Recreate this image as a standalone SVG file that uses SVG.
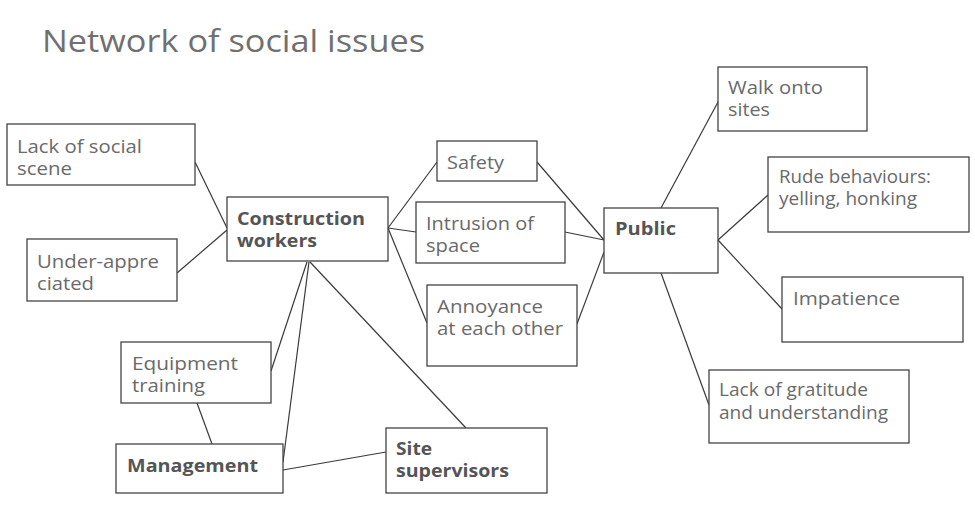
<svg xmlns="http://www.w3.org/2000/svg" width="975" height="514" viewBox="0 0 975 514">
<style>
.box{fill:#fff;stroke:#444;stroke-width:1.3}
.t{font-family:"Open Sans","Noto Sans",sans-serif;font-size:17.5px;fill:#6a6a6a}
.b{font-family:"Open Sans","Noto Sans",sans-serif;font-size:17.5px;font-weight:700;fill:#555}
.title{font-family:"Open Sans","Noto Sans",sans-serif;font-size:31px;fill:#707070}
#connectors line{stroke:#3a3a3a;stroke-width:1.2}
</style>
<rect width="975" height="514" fill="#fff"/>
<text class="title" x="42" y="52" textLength="383" lengthAdjust="spacingAndGlyphs">Network of social issues</text>
<g id="connectors">
<line x1="195" y1="162" x2="227" y2="228"/>
<line x1="177" y1="273" x2="227" y2="230"/>
<line x1="388" y1="228" x2="437" y2="162"/>
<line x1="388" y1="228" x2="416" y2="232"/>
<line x1="388" y1="228" x2="427" y2="323"/>
<line x1="537" y1="162" x2="604" y2="240"/>
<line x1="565" y1="232" x2="604" y2="240"/>
<line x1="577" y1="324" x2="604" y2="252"/>
<line x1="661" y1="208" x2="718" y2="102"/>
<line x1="718" y1="240" x2="768" y2="195"/>
<line x1="718" y1="240" x2="782" y2="309"/>
<line x1="661" y1="273" x2="709" y2="405"/>
<line x1="307" y1="262" x2="271" y2="371"/>
<line x1="309" y1="262" x2="283" y2="462"/>
<line x1="310" y1="262" x2="466" y2="428"/>
<line x1="197" y1="403" x2="212" y2="444"/>
<line x1="283" y1="470" x2="386" y2="452"/>
</g>
<g id="lack-social">
<rect class="box" x="7" y="124" width="188" height="61"/>
<text class="t" x="17" y="153" textLength="125" lengthAdjust="spacingAndGlyphs">Lack of social</text>
<text class="t" x="17" y="175" textLength="55" lengthAdjust="spacingAndGlyphs">scene</text>
</g>
<g id="under-appreciated">
<rect class="box" x="27" y="239" width="150" height="62"/>
<text class="t" x="37" y="268" textLength="122" lengthAdjust="spacingAndGlyphs">Under-appre</text>
<text class="t" x="37" y="290" textLength="57" lengthAdjust="spacingAndGlyphs">ciated</text>
</g>
<g id="construction-workers">
<rect class="box" x="227" y="197" width="161" height="64"/>
<text class="b" x="237" y="225" textLength="128" lengthAdjust="spacingAndGlyphs">Construction</text>
<text class="b" x="237" y="247" textLength="80" lengthAdjust="spacingAndGlyphs">workers</text>
</g>
<g id="safety">
<rect class="box" x="437" y="141" width="100" height="40"/>
<text class="t" x="447" y="169" textLength="57" lengthAdjust="spacingAndGlyphs">Safety</text>
</g>
<g id="intrusion">
<rect class="box" x="416" y="202" width="149" height="61"/>
<text class="t" x="426" y="230" textLength="108" lengthAdjust="spacingAndGlyphs">Intrusion of</text>
<text class="t" x="426" y="252" textLength="54" lengthAdjust="spacingAndGlyphs">space</text>
</g>
<g id="annoyance">
<rect class="box" x="427" y="285" width="150" height="81"/>
<text class="t" x="437" y="313" textLength="106" lengthAdjust="spacingAndGlyphs">Annoyance</text>
<text class="t" x="437" y="335" textLength="126" lengthAdjust="spacingAndGlyphs">at each other</text>
</g>
<g id="public">
<rect class="box" x="604" y="208" width="114" height="65"/>
<text class="b" x="615" y="235" textLength="61" lengthAdjust="spacingAndGlyphs">Public</text>
</g>
<g id="walk-onto-sites">
<rect class="box" x="718" y="67" width="149" height="64"/>
<text class="t" x="728" y="94" textLength="95" lengthAdjust="spacingAndGlyphs">Walk onto</text>
<text class="t" x="728" y="116" textLength="42" lengthAdjust="spacingAndGlyphs">sites</text>
</g>
<g id="rude-behaviours">
<rect class="box" x="768" y="157" width="201" height="75"/>
<text class="t" x="779" y="183" textLength="152" lengthAdjust="spacingAndGlyphs">Rude behaviours:</text>
<text class="t" x="779" y="205" textLength="138" lengthAdjust="spacingAndGlyphs">yelling, honking</text>
</g>
<g id="impatience">
<rect class="box" x="782" y="277" width="181" height="65"/>
<text class="t" x="793" y="305" textLength="107" lengthAdjust="spacingAndGlyphs">Impatience</text>
</g>
<g id="lack-gratitude">
<rect class="box" x="709" y="370" width="200" height="73"/>
<text class="t" x="719" y="396" textLength="149" lengthAdjust="spacingAndGlyphs">Lack of gratitude</text>
<text class="t" x="719" y="419" textLength="169" lengthAdjust="spacingAndGlyphs">and understanding</text>
</g>
<g id="equipment-training">
<rect class="box" x="121" y="342" width="150" height="61"/>
<text class="t" x="132" y="370" textLength="106" lengthAdjust="spacingAndGlyphs">Equipment</text>
<text class="t" x="132" y="392" textLength="73" lengthAdjust="spacingAndGlyphs">training</text>
</g>
<g id="management">
<rect class="box" x="116" y="444" width="167" height="49"/>
<text class="b" x="127" y="472" textLength="131" lengthAdjust="spacingAndGlyphs">Management</text>
</g>
<g id="site-supervisors">
<rect class="box" x="386" y="428" width="161" height="65"/>
<text class="b" x="396" y="455" textLength="36" lengthAdjust="spacingAndGlyphs">Site</text>
<text class="b" x="396" y="477" textLength="113" lengthAdjust="spacingAndGlyphs">supervisors</text>
</g>
</svg>
